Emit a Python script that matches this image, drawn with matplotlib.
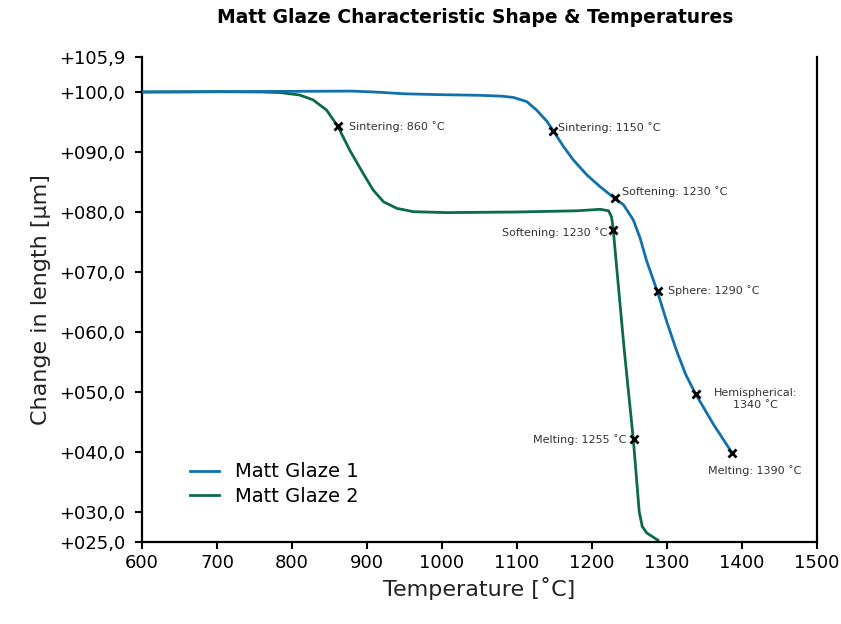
import matplotlib
matplotlib.use("Agg")
from matplotlib import pyplot as plt

# Matt Glaze 1 (blue)
t1 = [600, 700, 780, 880, 910, 950, 1000, 1050, 1080, 1095, 1113, 1126, 1140, 1148, 1162, 1175,
      1193, 1211, 1228, 1242, 1255, 1264, 1273, 1287, 1300, 1313, 1325, 1338, 1362, 1387]
y1 = [100.0, 100.05, 100.1, 100.15, 100.0, 99.7, 99.55, 99.45, 99.3, 99.1, 98.4, 97.0, 95.1,
      93.6, 90.9, 88.7, 86.2, 84.2, 82.5, 81.2, 78.7, 75.7, 71.8, 66.8, 61.6, 56.8, 52.9,
      49.7, 44.6, 39.8]

# Matt Glaze 2 (green)
t2 = [600, 700, 760, 785, 810, 828, 846, 861, 877, 895, 908, 922, 940, 962, 1007, 1100, 1180,
      1211, 1222, 1226, 1228, 1232, 1243, 1255, 1263, 1267, 1273, 1288]
y2 = [100.0, 100.05, 100.0, 99.9, 99.5, 98.7, 97.0, 94.3, 90.3, 86.4, 83.7, 81.7, 80.6, 80.05,
      79.9, 80.0, 80.2, 80.45, 80.2, 79.2, 77.5, 72.0, 57.0, 42.2, 30.0, 27.6, 26.5, 25.3]

# characteristic points
pts1_t = [1148, 1230, 1288, 1338, 1387]
pts1_y = [93.5, 82.3, 66.8, 49.7, 39.8]
pts1_lab = ["Sintering: 1150 ˚C", "Softening: 1230 ˚C", "Sphere: 1290 ˚C",
            "Hemispherical:\n1340 ˚C", "Melting: 1390 ˚C"]
pts2_t = [861, 1228, 1256]
pts2_y = [94.3, 77.0, 42.2]
pts2_lab = ["Sintering: 860 ˚C", "Softening: 1230 ˚C", "Melting: 1255 ˚C"]

yticks = [25.0, 30, 40, 50, 60, 70, 80, 90, 100, 105.9]
ytick_lab = ["+025,0", "+030,0", "+040,0", "+050,0", "+060,0", "+070,0", "+080,0",
             "+090,0", "+100,0", "+105,9"]
xticks = [600, 700, 800, 900, 1000, 1100, 1200, 1300, 1400, 1500]

blue = "#1271ab"
green = "#0b6b47"

fig = plt.figure(figsize=(8.41, 6.24), dpi=100)
ax = fig.add_axes([142/841, 1-542/624, 675/841, (542-56.6)/624])

ax.plot(t2, y2, color=green, lw=2, label="Matt Glaze 2", zorder=2)
ax.plot(t1, y1, color=blue, lw=2, label="Matt Glaze 1", zorder=3)

ax.plot(pts1_t + pts2_t, pts1_y + pts2_y, ls="none", marker="x", color="black",
        ms=6, mew=2, zorder=4)

# label offsets in pixels (dx, dy, ha)
off1 = [(5, 3, "left"), (7, 7, "left"), (10, 1, "left"), (60, -5, "center"), (22, -17, "center")]
off2 = [(11, 0, "left"), (-6, -3, "right"), (-8, -1, "right")]
for t, y, lab, (dx, dy, ha) in zip(pts1_t + pts2_t, pts1_y + pts2_y, pts1_lab + pts2_lab, off1 + off2):
    ax.annotate(lab, (t, y), xytext=(dx, dy), textcoords="offset pixels",
                ha=ha, va="center", fontsize=8, color="#333333", multialignment="center")

ax.set_xlim(600, 1500)
ax.set_ylim(25, 105.9)
ax.set_xticks(xticks)
ax.set_yticks(yticks)
ax.set_yticklabels(ytick_lab)
ax.tick_params(labelsize=13, direction="out", length=5, width=1.5, color="black")
ax.tick_params(axis="y", pad=7)
for s in ["left", "bottom", "right"]:
    ax.spines[s].set_linewidth(1.6)
ax.spines["top"].set_visible(False)

ax.set_xlabel("Temperature [˚C]", fontsize=16, color="#222222")
ax.set_ylabel("Change in length [µm]", fontsize=16, color="#222222", labelpad=6)
ax.set_title("Matt Glaze Characteristic Shape & Temperatures", fontsize=13.5,
             fontweight="bold", pad=24, x=0.493)

h, l = ax.get_legend_handles_labels()
ax.legend(h[::-1], l[::-1], loc="upper left", bbox_to_anchor=(0.045, 0.2), frameon=False,
          fontsize=14, handlelength=1.5, labelspacing=0.3)

fig.savefig("out.png", dpi=100)
